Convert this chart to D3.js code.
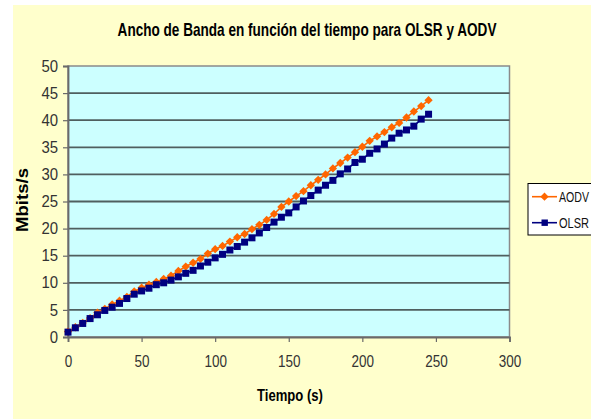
<!DOCTYPE html>
<html>
<head>
<meta charset="utf-8">
<script src="https://cdn.jsdelivr.net/npm/d3@7"></script>
<style>
  body { margin: 0; background: #fff; }
  svg { display: block; font-family: "Liberation Sans", Arial, sans-serif; }
</style>
</head>
<body>
<div id="chart"></div>
<script>
// data
const tiempo = [0, 5, 10, 15, 20, 25, 30, 35, 40, 45, 50, 55, 60, 65, 70, 75, 80, 85, 90, 95,
    100, 105, 110, 115, 120, 125, 130, 135, 140, 145, 150, 155, 160, 165, 170, 175, 180, 185, 190, 195,
    200, 205, 210, 215, 220, 225, 230, 235, 240, 245];
const aodv = [1.0, 1.8, 2.6, 3.5, 4.5, 5.2, 6.0, 6.7, 7.4, 8.4, 9.1, 9.65, 10.15, 10.7, 11.3, 12.2, 13.0, 13.7, 14.4, 15.4,
    16.2, 16.8, 17.6, 18.4, 19.0, 19.9, 20.7, 21.6, 22.7, 24.0, 25.0, 26.0, 26.9, 28.0, 29.0, 30.0, 31.1, 32.1, 33.1, 34.1,
    35.1, 36.2, 37.0, 37.8, 38.7, 39.5, 40.5, 41.6, 42.6, 43.7];
const olsr = [0.9, 1.7, 2.5, 3.4, 4.1, 4.9, 5.5, 6.2, 7.1, 7.9, 8.5, 9.0, 9.65, 10.0, 10.5, 11.1, 11.75, 12.3, 13.1, 13.8,
    14.6, 15.25, 16.05, 16.7, 17.5, 18.3, 19.2, 20.2, 21.2, 22.1, 22.9, 24.0, 25.1, 26.1, 27.1, 28.0, 28.9, 30.1, 31.0, 32.2,
    32.8, 33.9, 34.7, 35.6, 36.7, 37.6, 38.2, 38.9, 40.2, 41.1];
const xTicks = [0, 50, 100, 150, 200, 250, 300];
const yTicks = [0, 5, 10, 15, 20, 25, 30, 35, 40, 45, 50];
const seriesNames = ["AODV", "OLSR"];

const width = 591, height = 419;
const plot = {left: 68, top: 66, right: 509.5, bottom: 337};

const svg = d3.select("#chart").append("svg")
    .attr("width", width)
    .attr("height", height);

// squeeze text to the narrow look of the original
function squeeze(sel, w) {
    sel.attr("textLength", w).attr("lengthAdjust", "spacingAndGlyphs");
}
// same idea but with a transform, for free-standing labels
function narrowText(g, px, py, rot, w, txt, attrs) {
    const t = g.append("text").text(txt);
    Object.entries(attrs).forEach(([k, v]) => t.attr(k, v));
    const k = w / t.node().getComputedTextLength();
    t.attr("transform", `translate(${px},${py}) rotate(${rot}) scale(${k},1)`);
    return t;
}

// chart area
svg.append("rect")
    .attr("x", 13).attr("y", 5)
    .attr("width", width - 13).attr("height", height - 5)
    .attr("fill", "#ffffcc");

const x = d3.scaleLinear().domain([0, 300]).range([plot.left, plot.right]);
const y = d3.scaleLinear().domain([0, 50]).range([plot.bottom, plot.top]);

svg.append("rect")
    .attr("x", plot.left).attr("y", plot.top)
    .attr("width", plot.right - plot.left).attr("height", plot.bottom - plot.top)
    .attr("fill", "#ccffff")
    .attr("stroke", "#8a8a8a")
    .attr("stroke-width", 1.5);

// gridlines
svg.append("g").selectAll("line")
    .data(yTicks.filter(d => d > 0 && d < 50))
    .join("line")
    .attr("x1", plot.left).attr("x2", plot.right)
    .attr("y1", d => y(d)).attr("y2", d => y(d))
    .attr("stroke", "#4f5f5f")
    .attr("stroke-width", 1.8);

// axes
const yAxis = svg.append("g")
    .attr("transform", `translate(${plot.left},0)`)
    .call(d3.axisLeft(y).tickValues(yTicks).tickSize(5).tickPadding(5));
const xAxis = svg.append("g")
    .attr("transform", `translate(0,${plot.bottom})`)
    .call(d3.axisBottom(x).tickValues(xTicks).tickSize(5).tickPadding(14));

[yAxis, xAxis].forEach(ax => {
    ax.select(".domain").attr("stroke", "#6a6a6a").attr("stroke-width", 1.8);
    ax.selectAll(".tick line").attr("stroke", "#6a6a6a").attr("stroke-width", 1.2);
    ax.selectAll(".tick text")
        .attr("fill", "#333")
        .style("font-size", "16px")
        .style("font-family", "inherit");
});
yAxis.selectAll(".tick text").each(function(d) {
    squeeze(d3.select(this), String(d).length * 8.3);
});
xAxis.selectAll(".tick text").each(function(d) {
    squeeze(d3.select(this), String(d).length * 7.5);
});

// series
const colors = {AODV: "#ff6600", OLSR: "#000080"};
const data = {AODV: aodv, OLSR: olsr};
const line = d3.line().x((d, i) => x(tiempo[i])).y(d => y(d));

seriesNames.slice().reverse().forEach(name => {
    svg.append("path")
        .datum(data[name])
        .attr("d", line)
        .attr("fill", "none")
        .attr("stroke", colors[name])
        .attr("stroke-width", 1.6);
});

const diamond = d3.symbol().type(d3.symbolDiamond2).size(44);
svg.append("g").selectAll("path")
    .data(aodv)
    .join("path")
    .attr("d", diamond)
    .attr("transform", (d, i) => `translate(${x(tiempo[i])},${y(d)})`)
    .attr("fill", colors.AODV);

svg.append("g").selectAll("rect")
    .data(olsr)
    .join("rect")
    .attr("x", (d, i) => x(tiempo[i]) - 3.5)
    .attr("y", d => y(d) - 3.5)
    .attr("width", 7).attr("height", 7)
    .attr("fill", colors.OLSR);

// titles
const bold = {"text-anchor": "middle", "font-weight": "bold", "font-size": 17};
narrowText(svg, 307, 36, 0, 379, "Ancho de Banda en función del tiempo para OLSR y AODV",
    Object.assign({}, bold, {"font-size": 18}));
narrowText(svg, 290, 401, 0, 66, "Tiempo (s)", bold);
narrowText(svg, 28, 200, -90, 64, "Mbits/s", bold);

// legend
const legend = svg.append("g");
legend.append("rect")
    .attr("x", 528).attr("y", 183.5)
    .attr("width", 80).attr("height", 51.5)
    .attr("fill", "#fff")
    .attr("stroke", "#000")
    .attr("stroke-width", 1);

seriesNames.forEach((name, i) => {
    const ly = 196.7 + i * 26;
    legend.append("line")
        .attr("x1", 532).attr("x2", 557)
        .attr("y1", ly).attr("y2", ly)
        .attr("stroke", colors[name])
        .attr("stroke-width", 1.6);
    if (name === "AODV") {
        legend.append("path")
            .attr("d", diamond)
            .attr("transform", `translate(544.5,${ly})`)
            .attr("fill", colors[name]);
    } else {
        legend.append("rect")
            .attr("x", 541.5).attr("y", ly - 3.2)
            .attr("width", 6.4).attr("height", 6.4)
            .attr("fill", colors[name]);
    }
    narrowText(legend, 559, ly + 5.5, 0, 30, name, {"font-size": 15, "fill": "#111"});
});
</script>
</body>
</html>
